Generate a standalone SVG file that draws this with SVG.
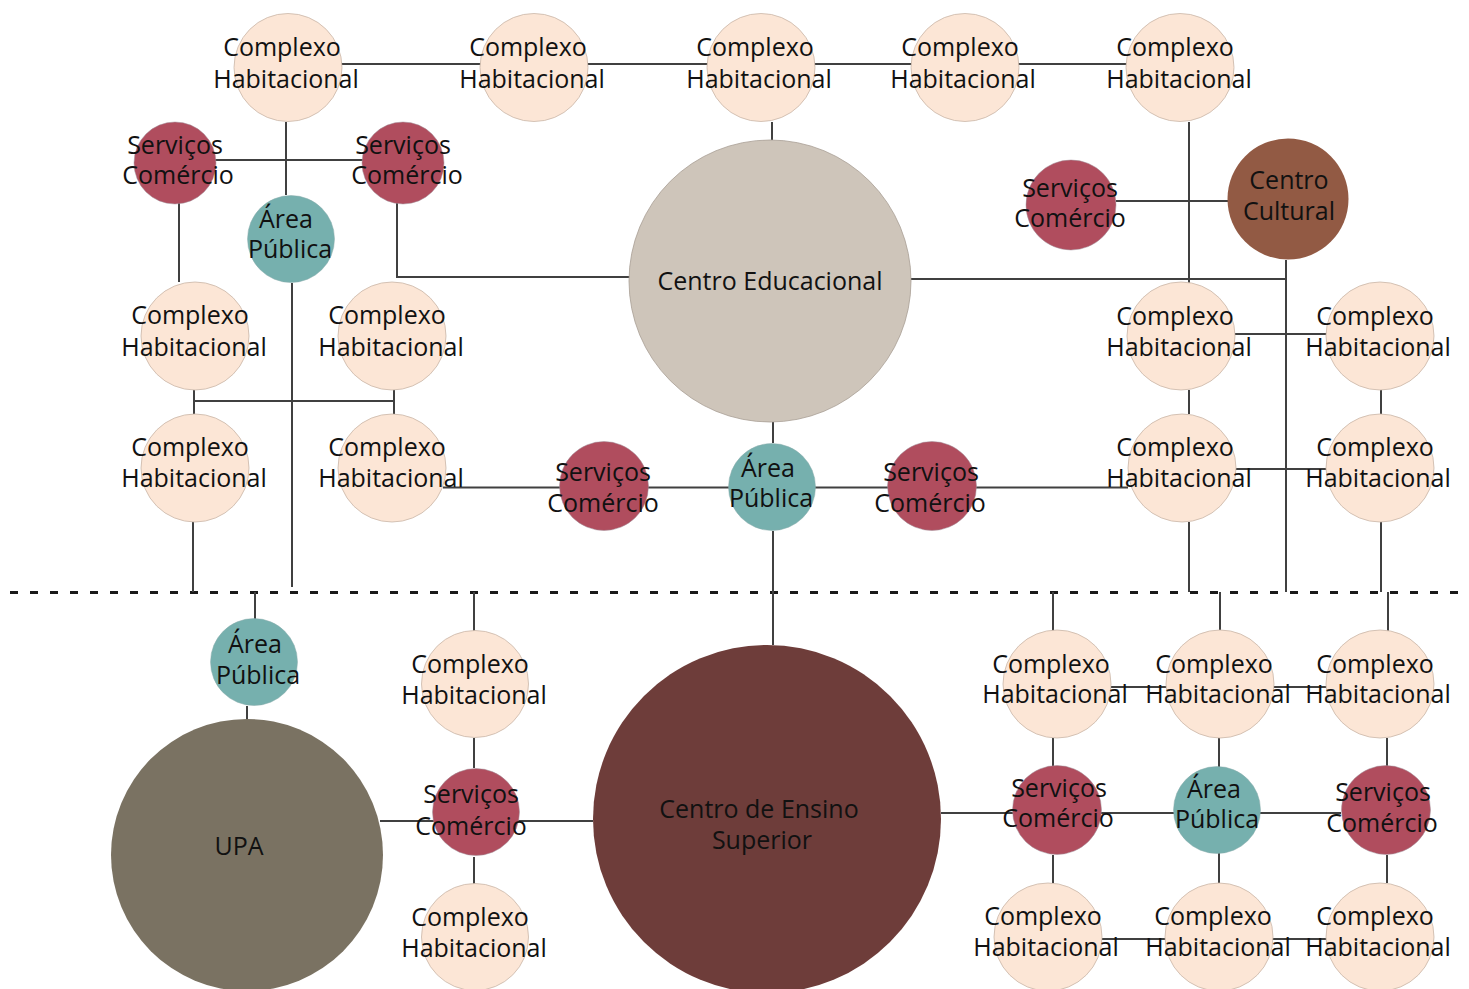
<svg xmlns="http://www.w3.org/2000/svg" width="1469" height="989" viewBox="0 0 1469 989">
<style>
.bg{fill:#ffffff}
.ln{stroke:#404040;stroke-width:2;fill:none}
.dash{stroke:#1a1a1a;stroke-width:3;stroke-dasharray:8 12;fill:none}
.ch{fill:#FCE6D6;stroke:#c9b6a8;stroke-width:0.8}
.sc{fill:#B04D5E;stroke:#a0909a;stroke-width:0.5}
.ap{fill:#76B0AE;stroke:#8aa;stroke-width:0.5}
.ce{fill:#CEC5BA;stroke:#a89e94;stroke-width:0.8}
.cc{fill:#925A44}
.upa{fill:#7A7262}
.ces{fill:#6E3D3A}
text{font-family:"Open Sans","Noto Sans","Liberation Sans",sans-serif;font-size:25px;fill:#111;text-anchor:middle}
</style>
<rect class="bg" width="1469" height="989"/>
<g id="connectors">
<path class="dash" d="M10 592.5H1462"/>
<path class="ln" d="M288 64H1180"/>
<path class="ln" d="M286 122V195M175 160H403M179 203V282M397 203V277H630"/>
<path class="ln" d="M772 122V140M911 279H1286M1189 122V283M1116 201H1228M1286 260V592"/>
<path class="ln" d="M1235 334H1327M1189 390V414M1381 390V414M1235 469H1327M1189 522V592M1381 522V592"/>
<path class="ln" d="M194 401H394M194 390V414M394 390V414M292 283V587M193 522V592"/>
<path class="ln" d="M443 487.5H1128M773 422V443M773 531V645"/>
<path class="ln" d="M255 592V619M247 706V720M474 592V631M474 738V768M474 857V884M380 821H593"/>
<path class="ln" d="M941 813H1341M1053 592V631M1053 738V766M1053 855V883M1220 592V631M1219 738V767M1219 853V883M1388 592V631M1387 738V766M1387 855V883M1111 687H1327M1102 939H1327"/>
</g>
<g id="ch-top-1"><circle class="ch" cx="288" cy="67.5" r="54"/><text x="282" y="56">Complexo</text><text x="286" y="88">Habitacional</text></g>
<g id="ch-top-2"><circle class="ch" cx="534" cy="67.5" r="54"/><text x="528" y="56">Complexo</text><text x="532" y="88">Habitacional</text></g>
<g id="ch-top-3"><circle class="ch" cx="761" cy="67.5" r="54"/><text x="755" y="56">Complexo</text><text x="759" y="88">Habitacional</text></g>
<g id="ch-top-4"><circle class="ch" cx="965" cy="67.5" r="54"/><text x="960" y="56">Complexo</text><text x="963" y="88">Habitacional</text></g>
<g id="ch-top-5"><circle class="ch" cx="1180" cy="67.5" r="54"/><text x="1175" y="56">Complexo</text><text x="1179" y="88">Habitacional</text></g>
<g id="sc-tl-1"><circle class="sc" cx="175" cy="163" r="41"/><text x="175" y="154">Serviços</text><text x="178" y="184">Comércio</text></g>
<g id="sc-tl-2"><circle class="sc" cx="403" cy="163" r="41"/><text x="403" y="154">Serviços</text><text x="407" y="184">Comércio</text></g>
<g id="ap-tl"><circle class="ap" cx="291" cy="239" r="43.5"/><text x="286" y="228">Área</text><text x="290" y="258">Pública</text></g>
<g id="centro-educacional"><circle class="ce" cx="770" cy="281" r="141"/><text x="770" y="290">Centro Educacional</text></g>
<g id="sc-tr"><circle class="sc" cx="1071" cy="205" r="45"/><text x="1070" y="197">Serviços</text><text x="1070" y="227">Comércio</text></g>
<g id="centro-cultural"><circle class="cc" cx="1288" cy="199" r="60.5"/><text x="1289" y="189">Centro</text><text x="1289" y="220">Cultural</text></g>
<g id="ch-l-1"><circle class="ch" cx="195" cy="336" r="54"/><text x="190" y="324">Complexo</text><text x="194" y="356">Habitacional</text></g>
<g id="ch-l-2"><circle class="ch" cx="392" cy="336" r="54"/><text x="387" y="324">Complexo</text><text x="391" y="356">Habitacional</text></g>
<g id="ch-l-3"><circle class="ch" cx="195" cy="468" r="54"/><text x="190" y="456">Complexo</text><text x="194" y="487">Habitacional</text></g>
<g id="ch-l-4"><circle class="ch" cx="392" cy="468" r="54"/><text x="387" y="456">Complexo</text><text x="391" y="487">Habitacional</text></g>
<g id="ch-r-1"><circle class="ch" cx="1181" cy="336" r="54"/><text x="1175" y="325">Complexo</text><text x="1179" y="356">Habitacional</text></g>
<g id="ch-r-2"><circle class="ch" cx="1380" cy="336" r="54"/><text x="1375" y="325">Complexo</text><text x="1378" y="356">Habitacional</text></g>
<g id="ch-r-3"><circle class="ch" cx="1182" cy="468" r="54"/><text x="1175" y="456">Complexo</text><text x="1179" y="487">Habitacional</text></g>
<g id="ch-r-4"><circle class="ch" cx="1380" cy="468" r="54"/><text x="1375" y="456">Complexo</text><text x="1378" y="487">Habitacional</text></g>
<g id="sc-m-1"><circle class="sc" cx="604" cy="486" r="44.5"/><text x="603" y="481">Serviços</text><text x="603" y="512">Comércio</text></g>
<g id="ap-m"><circle class="ap" cx="772" cy="487" r="43.5"/><text x="768" y="477">Área</text><text x="771" y="507">Pública</text></g>
<g id="sc-m-2"><circle class="sc" cx="932" cy="486" r="44.5"/><text x="931" y="481">Serviços</text><text x="930" y="512">Comércio</text></g>
<g id="ap-bl"><circle class="ap" cx="254" cy="662" r="43.5"/><text x="255" y="653">Área</text><text x="258" y="684">Pública</text></g>
<g id="upa"><circle class="upa" cx="247" cy="855" r="136"/><text x="239" y="855">UPA</text></g>
<g id="ch-b-1"><circle class="ch" cx="475" cy="684" r="53.5"/><text x="470" y="673">Complexo</text><text x="474" y="704">Habitacional</text></g>
<g id="sc-b-1"><circle class="sc" cx="476" cy="812" r="43.5"/><text x="471" y="803">Serviços</text><text x="471" y="835">Comércio</text></g>
<g id="ch-b-2"><circle class="ch" cx="475" cy="937" r="53.5"/><text x="470" y="926">Complexo</text><text x="474" y="957">Habitacional</text></g>
<g id="centro-ensino-superior"><circle class="ces" cx="767" cy="819" r="174"/><text x="759" y="818">Centro de Ensino</text><text x="762" y="849">Superior</text></g>
<g id="ch-br-1"><circle class="ch" cx="1057" cy="684" r="54"/><text x="1051" y="673">Complexo</text><text x="1055" y="703">Habitacional</text></g>
<g id="ch-br-2"><circle class="ch" cx="1220" cy="684" r="54"/><text x="1214" y="673">Complexo</text><text x="1218" y="703">Habitacional</text></g>
<g id="ch-br-3"><circle class="ch" cx="1380" cy="684" r="54"/><text x="1375" y="673">Complexo</text><text x="1378" y="703">Habitacional</text></g>
<g id="sc-br-1"><circle class="sc" cx="1057" cy="810" r="44.5"/><text x="1059" y="797">Serviços</text><text x="1058" y="827">Comércio</text></g>
<g id="ap-br"><circle class="ap" cx="1217" cy="810" r="43.5"/><text x="1214" y="798">Área</text><text x="1217" y="828">Pública</text></g>
<g id="sc-br-2"><circle class="sc" cx="1386" cy="810" r="44.5"/><text x="1383" y="801">Serviços</text><text x="1382" y="832">Comércio</text></g>
<g id="ch-br-4"><circle class="ch" cx="1048" cy="937" r="54"/><text x="1043" y="925">Complexo</text><text x="1046" y="956">Habitacional</text></g>
<g id="ch-br-5"><circle class="ch" cx="1219" cy="937" r="54"/><text x="1213" y="925">Complexo</text><text x="1218" y="956">Habitacional</text></g>
<g id="ch-br-6"><circle class="ch" cx="1380" cy="937" r="54"/><text x="1375" y="925">Complexo</text><text x="1378" y="956">Habitacional</text></g>
</svg>
